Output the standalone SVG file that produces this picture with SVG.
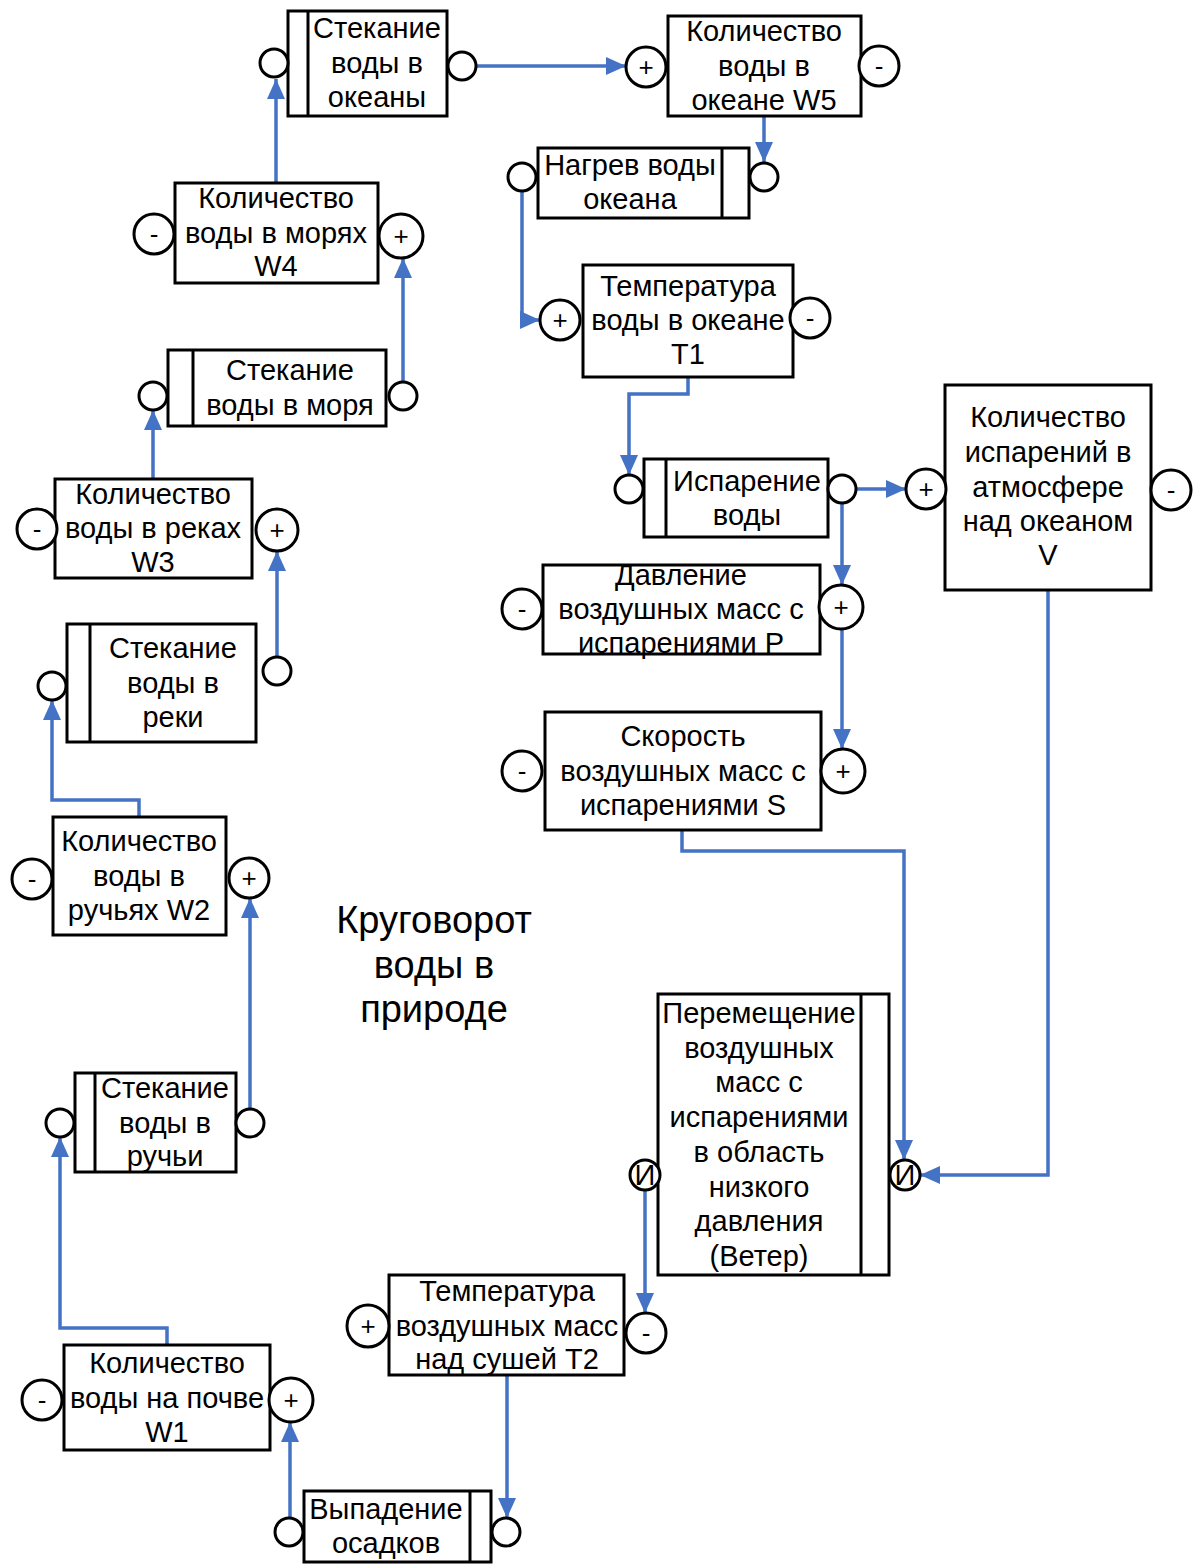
<svg xmlns="http://www.w3.org/2000/svg" width="1196" height="1564" viewBox="0 0 1196 1564">
<defs>
<marker id="ah" markerUnits="userSpaceOnUse" markerWidth="22" markerHeight="18" refX="20" refY="9" orient="auto">
<path d="M0,0 L20,9 L0,18 Z" fill="#4472C4"/>
</marker>
<style>
.box{fill:#fff;stroke:#000;stroke-width:3}
.bar{stroke:#000;stroke-width:3}
.port{fill:#fff;stroke:#000;stroke-width:3}
.t{font-family:"Liberation Sans",Arial,sans-serif;font-size:29px;fill:#000;text-anchor:middle}
.s{font-family:"Liberation Sans",Arial,sans-serif;font-size:26px;fill:#000;text-anchor:middle}
.title{font-family:"Liberation Sans",Arial,sans-serif;font-size:38px;fill:#000;text-anchor:middle}
.c{fill:none;stroke:#4472C4;stroke-width:3.5;marker-end:url(#ah)}
</style>
</defs>
<rect width="1196" height="1564" fill="#fff"/>

<g id="connectors">
<path class="c" d="M276,183 V79"/>
<path class="c" d="M476,66 H626"/>
<path class="c" d="M764,116 V162"/>
<path class="c" d="M522,191 V320 H540"/>
<path class="c" d="M688,377 V394 H629 V475"/>
<path class="c" d="M856,489 H906"/>
<path class="c" d="M842,503 V585"/>
<path class="c" d="M842,629 V749"/>
<path class="c" d="M682,830 V851 H904 V1160"/>
<path class="c" d="M1048,590 V1175 H920"/>
<path class="c" d="M645,1190 V1313"/>
<path class="c" d="M507,1375 V1518"/>
<path class="c" d="M290,1518 V1422"/>
<path class="c" d="M167,1345 V1328 H60 V1137"/>
<path class="c" d="M250,1108 V898"/>
<path class="c" d="M139,817 V800 H52 V700"/>
<path class="c" d="M277,657 V551"/>
<path class="c" d="M153,479 V410"/>
<path class="c" d="M403,382 V258"/>
</g>

<g id="n1">
<rect class="box" x="288" y="11" width="159" height="105"/>
<line class="bar" x1="308" y1="11" x2="308" y2="116"/>
<circle class="port" cx="274" cy="63" r="14"/>
<circle class="port" cx="462" cy="66" r="14"/>
<text class="t" x="377" y="38">Стекание</text>
<text class="t" x="377" y="73">воды в</text>
<text class="t" x="377" y="107">океаны</text>
</g>

<g id="n2">
<rect class="box" x="668" y="16" width="193" height="100"/>
<circle class="port" cx="646" cy="67" r="20"/>
<circle class="port" cx="879" cy="66" r="20"/>
<text class="s" x="646" y="76">+</text>
<text class="s" x="879" y="75">-</text>
<text class="t" x="764" y="41">Количество</text>
<text class="t" x="764" y="76">воды в</text>
<text class="t" x="764" y="110">океане W5</text>
</g>

<g id="n3">
<rect class="box" x="538" y="148" width="211" height="70"/>
<line class="bar" x1="722" y1="148" x2="722" y2="218"/>
<circle class="port" cx="522" cy="177" r="14"/>
<circle class="port" cx="764" cy="177" r="14"/>
<text class="t" x="630" y="175">Нагрев воды</text>
<text class="t" x="630" y="209">океана</text>
</g>

<g id="n4">
<rect class="box" x="175" y="183" width="203" height="100"/>
<circle class="port" cx="154" cy="234" r="20"/>
<circle class="port" cx="401" cy="236" r="22"/>
<text class="s" x="154" y="243">-</text>
<text class="s" x="401" y="245">+</text>
<text class="t" x="276" y="208">Количество</text>
<text class="t" x="276" y="243">воды в морях</text>
<text class="t" x="276" y="276">W4</text>
</g>

<g id="n5">
<rect class="box" x="583" y="265" width="210" height="112"/>
<circle class="port" cx="560" cy="320" r="20"/>
<circle class="port" cx="810" cy="318" r="20"/>
<text class="s" x="560" y="329">+</text>
<text class="s" x="810" y="327">-</text>
<text class="t" x="688" y="296">Температура</text>
<text class="t" x="688" y="330">воды в океане</text>
<text class="t" x="688" y="364">T1</text>
</g>

<g id="n6">
<rect class="box" x="168" y="350" width="218" height="76"/>
<line class="bar" x1="193" y1="350" x2="193" y2="426"/>
<circle class="port" cx="153" cy="396" r="14"/>
<circle class="port" cx="403" cy="396" r="14"/>
<text class="t" x="290" y="380">Стекание</text>
<text class="t" x="290" y="415">воды в моря</text>
</g>

<g id="n7">
<rect class="box" x="945" y="385" width="206" height="205"/>
<circle class="port" cx="926" cy="489" r="20"/>
<circle class="port" cx="1171" cy="490" r="20"/>
<text class="s" x="926" y="498">+</text>
<text class="s" x="1171" y="499">-</text>
<text class="t" x="1048" y="427">Количество</text>
<text class="t" x="1048" y="462">испарений  в</text>
<text class="t" x="1048" y="497">атмосфере</text>
<text class="t" x="1048" y="531">над океаном</text>
<text class="t" x="1048" y="565">V</text>
</g>

<g id="n8">
<rect class="box" x="644" y="459" width="184" height="78"/>
<line class="bar" x1="666" y1="459" x2="666" y2="537"/>
<circle class="port" cx="629" cy="489" r="14"/>
<circle class="port" cx="842" cy="489" r="14"/>
<text class="t" x="747" y="491">Испарение</text>
<text class="t" x="747" y="525">воды</text>
</g>

<g id="n9">
<rect class="box" x="55" y="479" width="197" height="99"/>
<circle class="port" cx="37" cy="529" r="20"/>
<circle class="port" cx="277" cy="530" r="21"/>
<text class="s" x="37" y="538">-</text>
<text class="s" x="277" y="539">+</text>
<text class="t" x="153" y="504">Количество</text>
<text class="t" x="153" y="538">воды в реках</text>
<text class="t" x="153" y="572">W3</text>
</g>

<g id="n10">
<rect class="box" x="543" y="565" width="277" height="89"/>
<circle class="port" cx="522" cy="609" r="20"/>
<circle class="port" cx="841" cy="607" r="22"/>
<text class="s" x="522" y="618">-</text>
<text class="s" x="841" y="616">+</text>
<text class="t" x="681" y="585">Давление</text>
<text class="t" x="681" y="619">воздушных масс с</text>
<text class="t" x="681" y="653">испарениями P</text>
</g>

<g id="n11">
<rect class="box" x="67" y="624" width="189" height="118"/>
<line class="bar" x1="90" y1="624" x2="90" y2="742"/>
<circle class="port" cx="52" cy="686" r="14"/>
<circle class="port" cx="277" cy="671" r="14"/>
<text class="t" x="173" y="658">Стекание</text>
<text class="t" x="173" y="693">воды в</text>
<text class="t" x="173" y="727">реки</text>
</g>

<g id="n12">
<rect class="box" x="545" y="712" width="276" height="118"/>
<circle class="port" cx="522" cy="771" r="20"/>
<circle class="port" cx="843" cy="771" r="22"/>
<text class="s" x="522" y="780">-</text>
<text class="s" x="843" y="780">+</text>
<text class="t" x="683" y="746">Скорость</text>
<text class="t" x="683" y="781">воздушных масс с</text>
<text class="t" x="683" y="815">испарениями S</text>
</g>

<g id="n13">
<rect class="box" x="53" y="817" width="173" height="118"/>
<circle class="port" cx="32" cy="879" r="20"/>
<circle class="port" cx="249" cy="878" r="20"/>
<text class="s" x="32" y="888">-</text>
<text class="s" x="249" y="887">+</text>
<text class="t" x="139" y="851">Количество</text>
<text class="t" x="139" y="886">воды в</text>
<text class="t" x="139" y="920">ручьях W2</text>
</g>

<g id="title">
<text class="title" x="434" y="933">Круговорот</text>
<text class="title" x="434" y="978">воды в</text>
<text class="title" x="434" y="1022">природе</text>
</g>

<g id="n14">
<rect class="box" x="75" y="1073" width="161" height="99"/>
<line class="bar" x1="95" y1="1073" x2="95" y2="1172"/>
<circle class="port" cx="60" cy="1123" r="14"/>
<circle class="port" cx="250" cy="1123" r="14"/>
<text class="t" x="165" y="1098">Стекание</text>
<text class="t" x="165" y="1133">воды в</text>
<text class="t" x="165" y="1166">ручьи</text>
</g>

<g id="n15">
<rect class="box" x="658" y="994" width="231" height="281"/>
<line class="bar" x1="861" y1="994" x2="861" y2="1275"/>
<circle class="port" cx="645" cy="1175" r="15"/>
<circle class="port" cx="905" cy="1175" r="15"/>
<text class="t" x="645" y="1185">И</text>
<text class="t" x="905" y="1185">И</text>
<text class="t" x="759" y="1023">Перемещение</text>
<text class="t" x="759" y="1058">воздушных</text>
<text class="t" x="759" y="1092">масс с</text>
<text class="t" x="759" y="1127">испарениями</text>
<text class="t" x="759" y="1162">в область</text>
<text class="t" x="759" y="1197">низкого</text>
<text class="t" x="759" y="1231">давления</text>
<text class="t" x="759" y="1266">(Ветер)</text>
</g>

<g id="n16">
<rect class="box" x="389" y="1275" width="235" height="100"/>
<circle class="port" cx="368" cy="1326" r="21"/>
<circle class="port" cx="646" cy="1333" r="20"/>
<text class="s" x="368" y="1335">+</text>
<text class="s" x="646" y="1342">-</text>
<text class="t" x="507" y="1301">Температура</text>
<text class="t" x="507" y="1336">воздушных масс</text>
<text class="t" x="507" y="1369">над сушей T2</text>
</g>

<g id="n17">
<rect class="box" x="64" y="1345" width="206" height="105"/>
<circle class="port" cx="42" cy="1400" r="20"/>
<circle class="port" cx="291" cy="1400" r="22"/>
<text class="s" x="42" y="1409">-</text>
<text class="s" x="291" y="1409">+</text>
<text class="t" x="167" y="1373">Количество</text>
<text class="t" x="167" y="1408">воды на почве</text>
<text class="t" x="167" y="1442">W1</text>
</g>

<g id="n18">
<rect class="box" x="304" y="1491" width="187" height="71"/>
<line class="bar" x1="470" y1="1491" x2="470" y2="1562"/>
<circle class="port" cx="289" cy="1532" r="14"/>
<circle class="port" cx="506" cy="1532" r="14"/>
<text class="t" x="386" y="1519">Выпадение</text>
<text class="t" x="386" y="1553">осадков</text>
</g>
</svg>
